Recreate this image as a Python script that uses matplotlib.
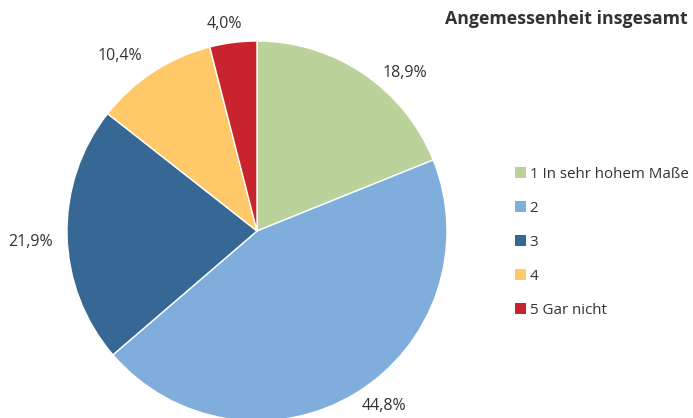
import matplotlib.pyplot as plt
from matplotlib.patches import Patch

# data for the pie
categories = ['1 In sehr hohem Maße', '2', '3', '4', '5 Gar nicht']
shares = [18.9, 44.8, 21.9, 10.4, 4.0]
pct_labels = ['18,9%', '44,8%', '21,9%', '10,4%', '4,0%']
colors = ['#BBD39A', '#7FAEDD', '#376794', '#FFC869', '#C9242D']
# label positions in pie-radius units (as in the original chart)
label_xy = [(0.78, 0.83), (0.67, -0.92), (-1.19, -0.06), (-0.72, 0.92), (-0.17, 1.09)]

plt.rcParams['font.family'] = 'Open Sans'
plt.rcParams['text.color'] = '#333333'

fig = plt.figure(figsize=(6.93, 4.18), dpi=100)
# pie centre at (257, 231) px, radius ~190 px
ax = fig.add_axes([67 / 693, (187 - 190) / 418, 380 / 693, 380 / 418])
wedges, texts = ax.pie(shares, labels=pct_labels, colors=colors,
                       startangle=90, counterclock=False, radius=1,
                       wedgeprops=dict(edgecolor='white', linewidth=1),
                       textprops=dict(fontsize=11.5, color='#333333'))
for t, xy in zip(texts, label_xy):
    t.set_position(xy)
    t.set_horizontalalignment('center')
    t.set_verticalalignment('center')
    t.set_clip_on(False)
ax.set_xlim(-1, 1)
ax.set_ylim(-1, 1)
ax.set_aspect('equal')
ax.axis('off')

fig.text(688 / 693, 1 - 19 / 418, 'Angemessenheit insgesamt',
         ha='right', va='center', fontsize=12.8, fontweight='bold',
         color='#333333')

handles = [Patch(facecolor=c, edgecolor='none') for c in colors]
fig.legend(handles, categories, loc='upper left',
           bbox_to_anchor=(507 / 693, 1 - 159 / 418), frameon=False,
           fontsize=10.9, handlelength=0.75, handleheight=0.75,
           handletextpad=0.25, labelspacing=1.26, borderpad=0)

plt.savefig('out.png', dpi=100)
